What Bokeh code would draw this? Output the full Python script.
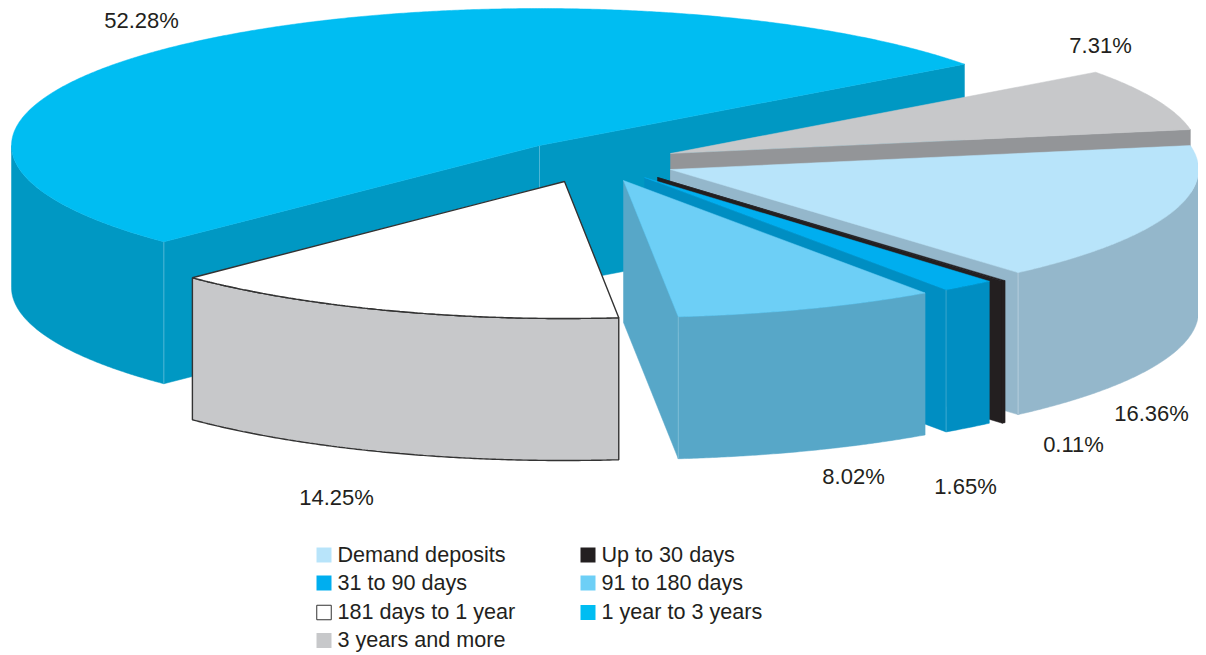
import numpy as np
from bokeh.plotting import figure
from bokeh.models import Range1d
from bokeh.core.properties import value
from bokeh.embed import file_html
from bokeh.resources import INLINE

# ---- data, clockwise from the big slice
names = ["1 year to 3 years", "3 years and more", "Demand deposits", "Up to 30 days",
         "31 to 90 days", "91 to 180 days", "181 days to 1 year"]
shares = [52.28, 7.31, 16.36, 0.11, 1.65, 8.02, 14.25]
top_colors = ["#00BDF2", "#C7C8CA", "#B8E4FA", "#231F20", "#00AEEF", "#6DCFF6", "#FFFFFF"]
side_colors = ["#0098C3", "#939598", "#94B7CB", "#231F20", "#008EC2", "#57A7C8", "#C7C8CA"]
seam_colors = ["#4DB6D6", "#939598", "#B4CEDC", "#231F20", "#3AA9D0", "#7DBCD6", "#C7C8CA"]

legend_order = ["Demand deposits", "Up to 30 days", "31 to 90 days", "91 to 180 days",
                "181 days to 1 year", "1 year to 3 years", "3 years and more"]

# ---- layout (pixels on the page)
centers = [(539, 145), (670, 153), (670, 169), (657, 177), (644, 177), (623, 180), (564, 181)]
radii = [528, 528, 528, 528, 528, 528, 523]
label_pos = [(141, 20), (1100, 45), (1151, 413), (1073, 444), (965, 486), (853, 476), (336, 497)]
B, DEPTH = 137.0, 142.0
START = 36.4  # degrees: where the big slice meets the grey one
LEG_X = [316, 580]
LEG_Y = [554.5, 582.5, 612, 640]
FONT = "Liberation Sans"
FONT_SIZE = "21.6px"

p = figure(width=1198, height=655, output_backend="svg", toolbar_location=None,
           x_range=Range1d(0, 1198), y_range=Range1d(655, 0),
           x_axis_type=None, y_axis_type=None, min_border=0, outline_line_color=None)
p.grid.visible = False
p.background_fill_color = "#FFFFFF"
p.border_fill_color = "#FFFFFF"


def pt(c, a, t):
    r = np.radians(t)
    return c[0] + a * np.cos(r), c[1] - B * np.sin(r)


def arc(c, a, t0, t1):
    ts = np.linspace(t0, t1, max(3, int(abs(t1 - t0) * 3)))
    return [pt(c, a, t) for t in ts]


def draw_poly(pts, fill, line=None, w=1.0):
    xs, ys = zip(*pts)
    p.patch(list(xs), list(ys), fill_color=fill, line_color=line or fill,
            line_width=w if line else 0.5)


def shift(pts):
    return [(x, y + DEPTH) for x, y in pts]


# slices: [t0, t1] with t0 clockwise-most. First slice spans ccw from START.
spans = []
tot = sum(shares)
first_sweep = shares[0] / tot * 360
spans.append((START, START + first_sweep))
hi = START
for s in shares[1:]:
    sw = s / tot * 360
    spans.append((hi - sw, hi))
    hi -= sw

for i, (t0, t1) in enumerate(spans):
    c = centers[i]
    a = radii[i]
    edge = "#333333" if top_colors[i] == "#FFFFFF" else None
    # cut faces facing the viewer
    faces = []
    if np.cos(np.radians(t0)) > 0:
        faces.append(t0)
    if np.cos(np.radians(t1)) < 0:
        faces.append(t1)
    for t in faces:
        e = [c, pt(c, a, t)]
        draw_poly(e + shift(e)[::-1], side_colors[i])
    # outer wall: the part of the rim in front
    walls = []
    for k in (0, 1):
        lo_, hi_ = (180, 360) if k == 0 else (-180, 0)
        a0, a1 = max(t0, lo_), min(t1, hi_)
        if a1 > a0:
            walls.append((a0, a1))
    for a0, a1 in walls:
        rim = arc(c, a, a0, a1)
        draw_poly(rim + shift(rim)[::-1], side_colors[i], edge, 1.4)
        if edge is None:
            for t in faces:
                x, y = pt(c, a, t)
                p.line([x, x], [y, y + DEPTH], line_color=seam_colors[i], line_width=1)
    if i == 0:
        x, y = c
        p.line([x, x], [y, y + DEPTH], line_color=seam_colors[i], line_width=1)
    # top face
    top = [c] + arc(c, a, t0, t1)
    draw_poly(top, top_colors[i], edge, 1.4)

# percent labels
p.text([q[0] for q in label_pos], [q[1] for q in label_pos],
       text=[f"{s:.2f}%" for s in shares], text_align="center", text_baseline="middle",
       text_font=value(FONT), text_font_size=value("22px"), text_color="#231F20")

# legend
for j, nm in enumerate(legend_order):
    col, row = j % 2, j // 2
    idx = names.index(nm)
    fill = top_colors[idx]
    p.scatter([LEG_X[col] + 7.5], [LEG_Y[row]], marker="square", size=14.5 if fill == "#FFFFFF" else 15,
              fill_color=fill, line_color="#333333" if fill == "#FFFFFF" else None,
              line_width=1)
    p.text([LEG_X[col] + 21], [LEG_Y[row] - 1], text=[nm], text_align="left", text_baseline="middle",
           text_font=value(FONT), text_font_size=value(FONT_SIZE), text_color="#231F20")

open("out.html", "w").write(file_html(p, INLINE))
